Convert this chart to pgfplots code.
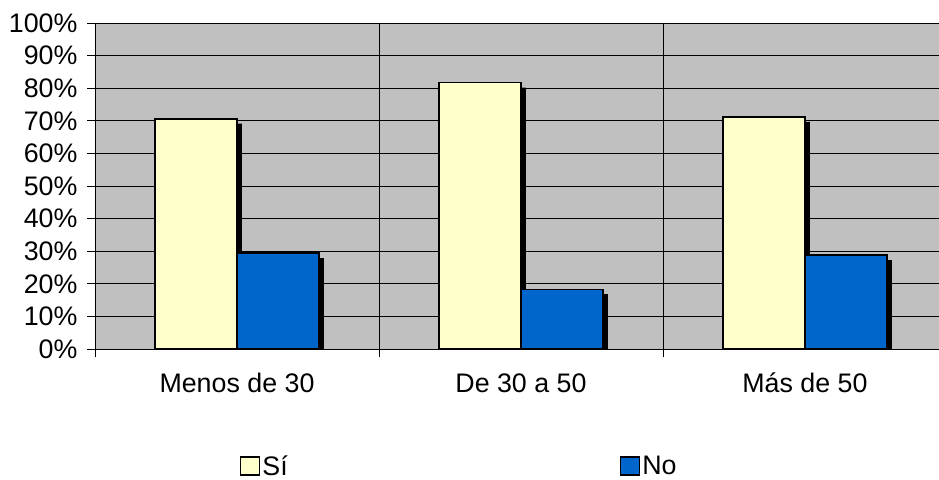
\documentclass[border=0pt]{standalone}
\usepackage{fontspec}
\setmainfont{Liberation Sans}
\usepackage{pgfplots}
\pgfplotsset{compat=1.18}
\definecolor{si}{HTML}{FFFFCC}
\definecolor{no}{HTML}{0066CC}
\definecolor{plotbg}{HTML}{C0C0C0}
\newcommand{\lbl}{\fontsize{26.8bp}{32bp}\selectfont}
\begin{document}
\begin{tikzpicture}
\path[use as bounding box] (0,0) rectangle (939bp,480bp);
\begin{axis}[
  at={(95bp,131bp)}, anchor=south west,
  scale only axis, width=844bp, height=326bp,
  xmin=-0.5, xmax=2.472, ymin=0, ymax=100,
  axis x line*=bottom, axis y line*=left,
  axis line style={black, line width=0.8bp},
  axis background/.style={fill=plotbg},
  ybar,
  ytick={0,10,...,90},
  yticklabels={0\%,10\%,20\%,30\%,40\%,50\%,60\%,70\%,80\%,90\%},
  extra y ticks={100}, extra y tick labels={100\%},
  extra y tick style={grid style={gray!80!black, line width=1bp}},
  ymajorgrids, major grid style={black, line width=0.8bp},
  xtick={0,1,2},
  xticklabels={Menos de 30, De 30 a 50, Más de 50},
  major x tick style={draw=none},
  minor xtick={-0.5,0.5,1.5},
  xminorgrids, minor grid style={black, line width=0.8bp},
  tick align=outside, major tick length=8bp, minor tick length=8bp,
  tick style={black, line width=0.8bp},
  tick label style={font=\lbl},
  xticklabel style={text height=26bp, yshift=-6bp},
  yticklabel style={xshift=-6bp},
  legend style={at={(axis description cs:0.168,-0.359)}, anchor=west,
    draw=none, fill=none, font=\lbl, legend columns=2,
    /tikz/every even column/.append style={column sep=330bp}},
  legend image code/.code={\draw[#1, line width=1.5bp] (0bp,-9bp) rectangle (19bp,9bp);},
  bar width=82bp,
]
% shadows
\addplot[forget plot, fill=black, draw=none, bar shift=-36bp] coordinates {(0,69.1) (1,80.2) (2,69.7)};
\addplot[forget plot, fill=black, draw=none, bar shift=46bp] coordinates {(0,27.9) (1,16.8) (2,27.3)};
% bars
\addplot[fill=si, draw=black, line width=1.5bp, bar shift=-41bp] coordinates {(0,70.6) (1,81.7) (2,71.2)};
\addplot[fill=no, draw=black, line width=1.5bp, bar shift=41bp] coordinates {(0,29.4) (1,18.3) (2,28.8)};
\legend{Sí, No}
\end{axis}
\end{tikzpicture}
\end{document}
